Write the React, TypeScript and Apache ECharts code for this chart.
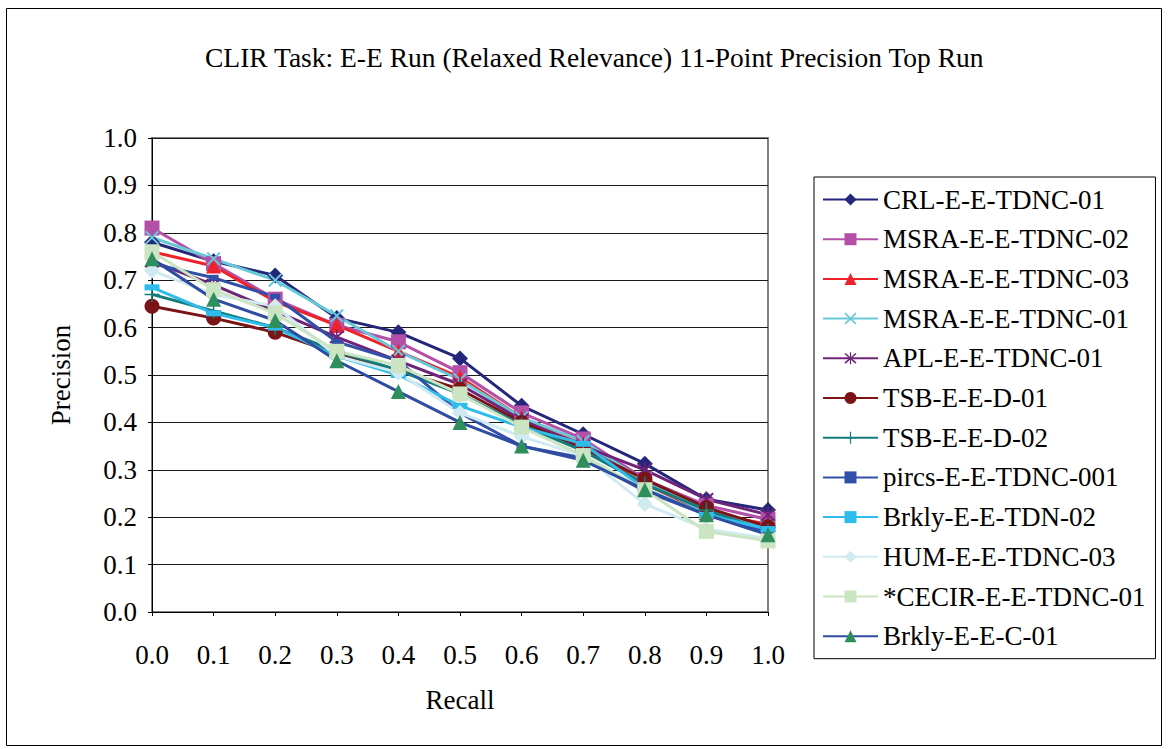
import React, { useEffect, useRef } from "react";
import * as echarts from "echarts";

const recallTicks = ["0.0", "0.1", "0.2", "0.3", "0.4", "0.5", "0.6", "0.7", "0.8", "0.9", "1.0"];

const crlE01 = [0.78, 0.74, 0.71, 0.62, 0.59, 0.535, 0.435, 0.375, 0.313, 0.238, 0.215];
const msraE02 = [0.81, 0.735, 0.66, 0.605, 0.57, 0.505, 0.42, 0.365, 0.28, 0.225, 0.195];
const msraE03 = [0.76, 0.73, 0.655, 0.605, 0.55, 0.495, 0.41, 0.355, 0.27, 0.21, 0.185];
const msraE01 = [0.79, 0.745, 0.7, 0.625, 0.55, 0.49, 0.41, 0.36, 0.275, 0.21, 0.18];
const aplE01 = [0.74, 0.69, 0.635, 0.58, 0.53, 0.48, 0.405, 0.35, 0.3, 0.238, 0.205];
const tsbD01 = [0.645, 0.62, 0.59, 0.545, 0.51, 0.47, 0.4, 0.345, 0.28, 0.22, 0.18];
const tsbD02 = [0.67, 0.635, 0.6, 0.55, 0.51, 0.46, 0.395, 0.34, 0.27, 0.215, 0.17];
const pircsE001 = [0.735, 0.705, 0.665, 0.57, 0.53, 0.42, 0.35, 0.325, 0.255, 0.205, 0.17];
const brklyTdn02 = [0.685, 0.63, 0.6, 0.54, 0.5, 0.435, 0.39, 0.355, 0.26, 0.205, 0.175];
const humE03 = [0.72, 0.67, 0.645, 0.54, 0.505, 0.42, 0.37, 0.33, 0.228, 0.175, 0.155];
const cecirE01 = [0.76, 0.68, 0.63, 0.55, 0.52, 0.46, 0.39, 0.33, 0.258, 0.17, 0.15];
const brklyC01 = [0.745, 0.66, 0.615, 0.53, 0.465, 0.4, 0.35, 0.32, 0.258, 0.205, 0.163];

const X_PATH = "path://M0,2 L2,0 L10,8 L18,0 L20,2 L12,10 L20,18 L18,20 L10,12 L2,20 L0,18 L8,10 Z";
const STAR_PATH =
  "path://M0,3 L2,1 L10,8.5 L18,1 L20,3 L12,10 L20,17 L18,19 L10,11.5 L2,19 L0,17 L8,10 Z M9,0 L11,0 L11,20 L9,20 Z";
const PLUS_PATH = "path://M9,0 L11,0 L11,9 L20,9 L20,11 L11,11 L11,20 L9,20 L9,11 L0,11 L0,9 L9,9 Z";

const FONT = "'Liberation Serif', 'Times New Roman', serif";
const FS = 27;

type Spec = {
  name: string;
  data: number[];
  line: string;
  marker: string;
  symbol: string;
  size: number | number[];
};

const specs: Spec[] = [
  { name: "CRL-E-E-TDNC-01", data: crlE01, line: "#24267A", marker: "#24267A", symbol: "diamond", size: 16 },
  { name: "MSRA-E-E-TDNC-02", data: msraE02, line: "#B450A8", marker: "#B450A8", symbol: "rect", size: 15 },
  { name: "MSRA-E-E-TDNC-03", data: msraE03, line: "#EE2228", marker: "#EE2228", symbol: "triangle", size: 15 },
  { name: "MSRA-E-E-TDNC-01", data: msraE01, line: "#68C8D8", marker: "#68C8D8", symbol: X_PATH, size: 14 },
  { name: "APL-E-E-TDNC-01", data: aplE01, line: "#6E2478", marker: "#6E2478", symbol: STAR_PATH, size: 15 },
  { name: "TSB-E-E-D-01", data: tsbD01, line: "#7B1416", marker: "#7B1416", symbol: "circle", size: 15 },
  { name: "TSB-E-E-D-02", data: tsbD02, line: "#137C7C", marker: "#137C7C", symbol: PLUS_PATH, size: 15 },
  { name: "pircs-E-E-TDNC-001", data: pircsE001, line: "#3050A8", marker: "#3050A8", symbol: "rect", size: [10, 6] },
  { name: "Brkly-E-E-TDN-02", data: brklyTdn02, line: "#2FBCEB", marker: "#2FBCEB", symbol: "rect", size: [15, 6] },
  { name: "HUM-E-E-TDNC-03", data: humE03, line: "#CFEAF0", marker: "#CFEAF0", symbol: "diamond", size: 16 },
  { name: "*CECIR-E-E-TDNC-01", data: cecirE01, line: "#CBE4C2", marker: "#CBE4C2", symbol: "rect", size: 15 },
  { name: "Brkly-E-E-C-01", data: brklyC01, line: "#2F4DA0", marker: "#2E8E5C", symbol: "triangle", size: 15 },
];

export default function App() {
  const ref = useRef<HTMLDivElement>(null);

  useEffect(() => {
    if (!ref.current) return;
    const chart = echarts.init(ref.current, null, { renderer: "svg" });
    chart.setOption({
      animation: false,
      backgroundColor: "#ffffff",
      textStyle: { fontFamily: FONT },
      title: {
        text: "CLIR Task: E-E Run (Relaxed Relevance) 11-Point Precision Top Run",
        left: 200,
        top: 38,
        textStyle: { fontFamily: FONT, fontSize: 27.5, fontWeight: "normal", color: "#000" },
      },
      graphic: [
        {
          type: "rect",
          shape: { x: 6.5, y: 8.5, width: 1155, height: 737 },
          style: { fill: "none", stroke: "#000", lineWidth: 1 },
          z: -10,
          silent: true,
        },
      ],
      grid: {
        left: 152,
        top: 138,
        width: 616,
        height: 474,
        show: true,
        borderColor: "#808080",
        borderWidth: 2,
        backgroundColor: "transparent",
      },
      legend: {
        orient: "vertical",
        left: 814,
        top: 177,
        itemWidth: 55,
        itemHeight: 15,
        itemGap: 12.7,
        padding: [9, 10, 9, 8],
        borderColor: "#000",
        borderWidth: 1,
        backgroundColor: "#fff",
        textStyle: { fontFamily: FONT, fontSize: FS, color: "#000", lineHeight: 27 },
        data: specs.map((s) => s.name),
      },
      xAxis: {
        type: "category",
        data: recallTicks,
        boundaryGap: false,
        name: "Recall",
        nameLocation: "middle",
        nameGap: 74,
        nameTextStyle: { fontFamily: FONT, fontSize: FS, color: "#000" },
        axisLine: { lineStyle: { color: "#000", width: 1 } },
        axisTick: { show: true, inside: false, length: 4, alignWithLabel: true, lineStyle: { color: "#000" } },
        axisLabel: { fontFamily: FONT, fontSize: FS, color: "#000", margin: 29 },
        splitLine: { show: false },
      },
      yAxis: {
        type: "value",
        min: 0,
        max: 1,
        interval: 0.1,
        name: "Precision",
        nameLocation: "middle",
        nameGap: 78,
        nameTextStyle: { fontFamily: FONT, fontSize: FS, color: "#000" },
        axisLine: { show: true, lineStyle: { color: "#000", width: 1 } },
        axisTick: { show: true, length: 4, lineStyle: { color: "#000" } },
        axisLabel: {
          fontFamily: FONT,
          fontSize: FS,
          color: "#000",
          margin: 15,
          formatter: (v: number) => v.toFixed(1),
        },
        splitLine: { show: true, lineStyle: { color: "#1a1a1a", width: 1 } },
      },
      series: specs.map((s) => ({
        name: s.name,
        type: "line",
        data: s.data,
        symbol: s.symbol,
        symbolSize: s.size,
        showAllSymbol: true,
        lineStyle: { color: s.line, width: 3 },
        itemStyle: { color: s.marker, borderWidth: 0 },
        emphasis: { disabled: true },
      })),
    });
    return () => chart.dispose();
  }, []);

  return (
    <div
      ref={ref}
      style={{ position: "absolute", left: 0, top: 0, width: 1168, height: 749 }}
    />
  );
}
